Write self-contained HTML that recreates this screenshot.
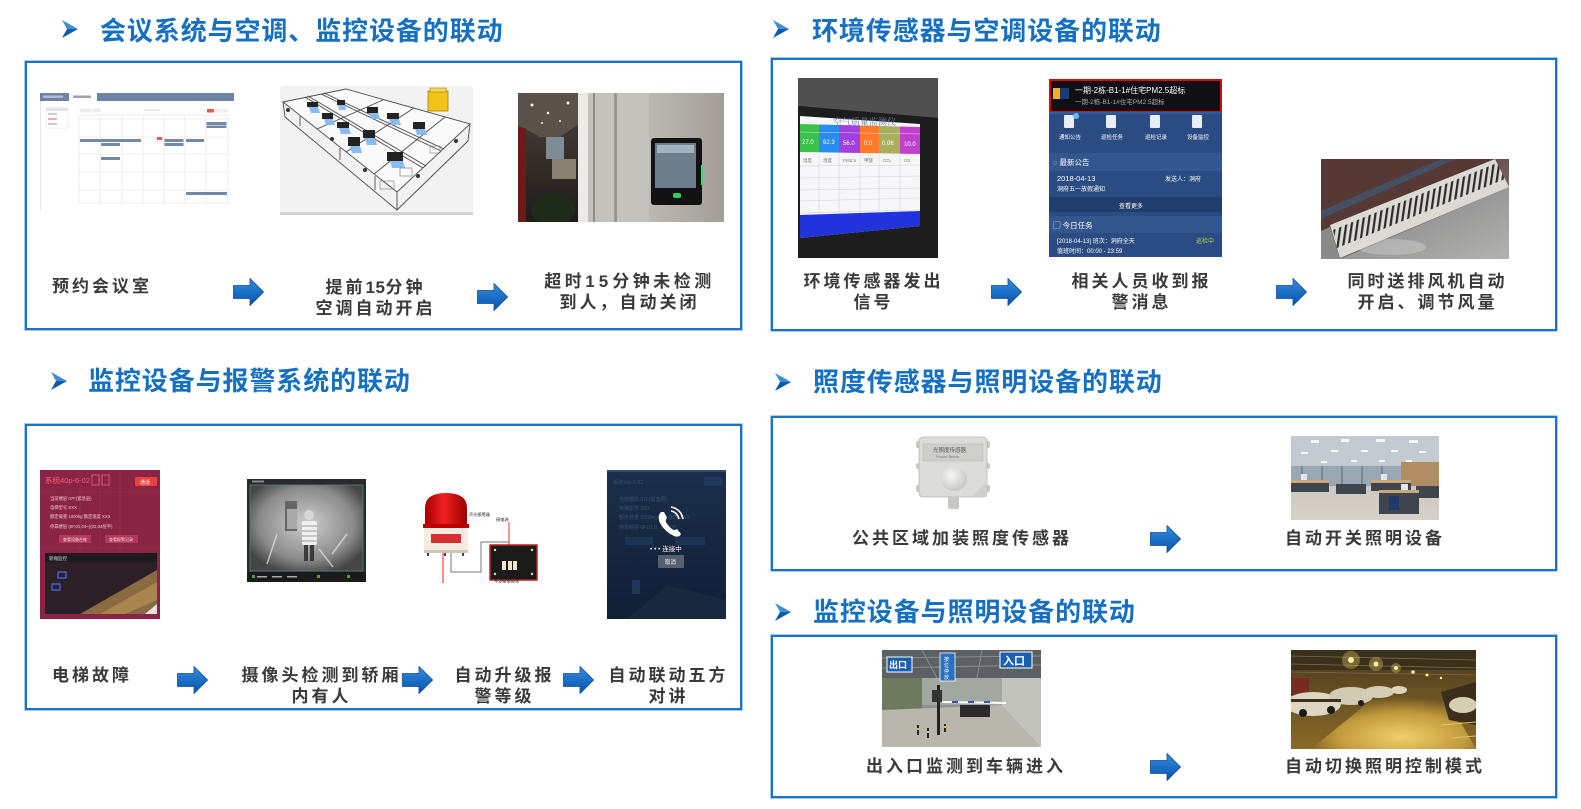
<!DOCTYPE html>
<html><head><meta charset="utf-8">
<style>
html,body{margin:0;padding:0;}
body{width:1581px;height:809px;background:#fff;position:relative;overflow:hidden;font-family:"Liberation Sans","Noto Sans CJK SC",sans-serif;}
.box{position:absolute;box-sizing:border-box;border:2px solid #1a73c6;box-shadow:0 0 0 0.6px #6aa6dc;}
.tt{position:absolute;font-family:"Liberation Sans","Noto Sans CJK SC",sans-serif;font-weight:bold;font-size:26px;line-height:26px;letter-spacing:0.9px;color:#1670c2;white-space:nowrap;}
.lb{position:absolute;font-family:"Liberation Sans","Noto Sans CJK SC",sans-serif;font-weight:bold;font-size:17px;line-height:21px;letter-spacing:3px;color:#3a3a3a;white-space:nowrap;}
.c{text-align:center;transform:translateX(-50%);padding-left:3px;}
.im{position:absolute;display:block;}
.d{letter-spacing:0.5px;}
</style></head><body>

<svg width="0" height="0" style="position:absolute">
<defs>
<linearGradient id="ag" x1="0" y1="0" x2="0" y2="1"><stop offset="0" stop-color="#3a8ede"/><stop offset="0.5" stop-color="#1a6fc6"/><stop offset="1" stop-color="#0b55a8"/></linearGradient>
<pattern id="slat" patternUnits="userSpaceOnUse" width="5.5" height="200" patternTransform="rotate(8)"><rect width="5.5" height="200" fill="#dcdad4"/><rect x="0" width="2.2" height="200" fill="#2c2b2a"/></pattern>
<radialGradient id="camg" cx="0.5" cy="0.45" r="0.6"><stop offset="0" stop-color="#cfcfcf"/><stop offset="0.7" stop-color="#8a8a8a"/><stop offset="1" stop-color="#454545"/></radialGradient>
<radialGradient id="dome" cx="0.4" cy="0.35" r="0.7"><stop offset="0" stop-color="#f7f7f5"/><stop offset="1" stop-color="#c4c4c0"/></radialGradient>
<radialGradient id="flr" cx="0.55" cy="0.8" r="0.65"><stop offset="0" stop-color="#f0d06a"/><stop offset="0.6" stop-color="#c29a3c"/><stop offset="1" stop-color="#6a5222"/></radialGradient>
<linearGradient id="navy" x1="0" y1="0" x2="0" y2="1"><stop offset="0" stop-color="#1c2e4a"/><stop offset="1" stop-color="#111f36"/></linearGradient>
<linearGradient id="red1" x1="0" y1="0" x2="1" y2="0"><stop offset="0" stop-color="#a50000"/><stop offset="0.45" stop-color="#f02020"/><stop offset="1" stop-color="#9a0000"/></linearGradient>
</defs>
</svg>

<!-- ===== Titles ===== -->
<svg class="im" style="left:62px;top:20px" width="16" height="18" viewBox="0 0 16 18"><polygon points="0,0 16,9 5,9" fill="#3d8fd8"/><polygon points="5,9 16,9 0,18" fill="#0c5aa8"/></svg>
<div class="tt" style="left:100px;top:18px">会议系统与空调、监控设备的联动</div>

<svg class="im" style="left:773px;top:20px" width="16" height="18" viewBox="0 0 16 18"><polygon points="0,0 16,9 5,9" fill="#3d8fd8"/><polygon points="5,9 16,9 0,18" fill="#0c5aa8"/></svg>
<div class="tt" style="left:812px;top:18px">环境传感器与空调设备的联动</div>

<svg class="im" style="left:51px;top:372px" width="16" height="18" viewBox="0 0 16 18"><polygon points="0,0 16,9 5,9" fill="#3d8fd8"/><polygon points="5,9 16,9 0,18" fill="#0c5aa8"/></svg>
<div class="tt" style="left:88px;top:368px">监控设备与报警系统的联动</div>

<svg class="im" style="left:775px;top:373px" width="16" height="18" viewBox="0 0 16 18"><polygon points="0,0 16,9 5,9" fill="#3d8fd8"/><polygon points="5,9 16,9 0,18" fill="#0c5aa8"/></svg>
<div class="tt" style="left:813px;top:369px">照度传感器与照明设备的联动</div>

<svg class="im" style="left:775px;top:603px" width="16" height="18" viewBox="0 0 16 18"><polygon points="0,0 16,9 5,9" fill="#3d8fd8"/><polygon points="5,9 16,9 0,18" fill="#0c5aa8"/></svg>
<div class="tt" style="left:813px;top:599px">监控设备与照明设备的联动</div>

<!-- ===== Boxes ===== -->
<div class="box" style="left:25px;top:61px;width:717px;height:269px"></div>
<div class="box" style="left:771px;top:58px;width:786px;height:273px"></div>
<div class="box" style="left:25px;top:424px;width:717px;height:286px"></div>
<div class="box" style="left:771px;top:416px;width:786px;height:155px"></div>
<div class="box" style="left:771px;top:635px;width:786px;height:163px"></div>

<!-- ===== Section 1 images ===== -->
<svg class="im" style="left:40px;top:93px" width="194" height="117" viewBox="0 0 194 117">
<rect width="194" height="117" fill="#fff"/>
<rect width="194" height="8" fill="#6f83a3"/>
<rect x="29" width="28" height="8" fill="#fff"/>
<rect x="3" y="2.5" width="20" height="2.5" fill="#b3bfd0"/>
<rect x="33" y="2.5" width="18" height="2.5" fill="#9aa2ad"/>
<rect x="0" y="8" width="0.8" height="109" fill="#e0e0e0"/>
<rect x="6" y="15" width="22" height="20" fill="#fff" stroke="#e0e0e0" stroke-width="0.5"/>
<rect x="6" y="15" width="22" height="3" fill="#e4e4e4"/>
<rect x="8" y="20.5" width="9" height="1" fill="#999"/>
<rect x="8" y="25.5" width="9" height="1" fill="#e06060"/>
<rect x="8" y="30.5" width="9" height="1" fill="#999"/>
<rect x="40" y="16" width="5" height="3" fill="#eee" stroke="#ddd" stroke-width="0.4"/>
<rect x="46" y="16" width="5" height="3" fill="#eee" stroke="#ddd" stroke-width="0.4"/>
<rect x="53" y="16" width="7" height="3" fill="#eee" stroke="#ddd" stroke-width="0.4"/>
<rect x="104" y="16.5" width="16" height="1.5" fill="#e6e6e6"/>
<rect x="167" y="16" width="7" height="3.5" fill="#e8594f"/>
<rect x="175" y="16" width="6" height="3.5" fill="#eee"/>
<rect x="182" y="16" width="6" height="3.5" fill="#eee"/>
<g stroke="#e3e3e3" stroke-width="0.6" fill="none">
<rect x="39" y="22" width="149" height="88"/>
<path d="M39 26H188M39 44H188M39 61H188M39 79H188M39 97H188M60 22V110M82 22V110M103 22V110M124 22V110M145 22V110M166 22V110"/>
</g>
<g fill="#7588a8">
<rect x="166.5" y="29" width="20" height="3"/>
<rect x="166.5" y="32.5" width="20" height="2.5"/>
<rect x="40" y="46" width="61" height="3"/>
<rect x="61" y="50" width="19" height="3"/>
<rect x="124.5" y="46" width="19" height="3"/>
<rect x="124.5" y="50" width="19" height="3"/>
<rect x="146" y="46" width="18" height="3"/>
<rect x="61" y="64" width="19" height="3"/>
<rect x="146" y="99" width="41" height="3"/>
</g>
<rect x="117" y="44" width="5" height="3" fill="#e8594f"/>
</svg>

<svg class="im" style="left:280px;top:86px" width="193" height="129" viewBox="0 0 193 129">
<rect width="193" height="129" rx="3" fill="#f2f2f2"/>
<rect x="0" y="126" width="193" height="3" fill="#d2d2d2"/>
<polygon points="3,16 66,3 190,38 117,106" fill="#fafafa"/>
<g fill="none" stroke="#4a4a4a" stroke-width="0.9">
<polygon points="3,16 66,3 190,38 117,106"/>
<polyline points="3,16 5,31 117,124 188,55 190,38"/>
<line x1="117" y1="106" x2="117" y2="124"/>
<line x1="25" y1="11" x2="143" y2="82"/>
<line x1="28" y1="10" x2="146" y2="80"/>
<line x1="41" y1="8" x2="161" y2="65"/>
<line x1="44" y1="7" x2="164" y2="63"/>
<line x1="37" y1="43" x2="103" y2="14"/>
<line x1="66" y1="66" x2="134" y2="22"/>
<line x1="94" y1="88" x2="165" y2="31"/>
<line x1="20" y1="30" x2="20" y2="40"/>
<line x1="60" y1="62" x2="60" y2="74"/>
<line x1="95" y1="90" x2="95" y2="104"/>
</g>
<g fill="#222">
<rect x="27" y="16" width="11" height="5"/><rect x="57" y="14" width="8" height="5"/>
<rect x="42" y="27" width="11" height="6"/><rect x="57" y="36" width="12" height="6"/>
<rect x="87" y="21" width="11" height="6"/><rect x="107" y="27" width="12" height="6"/>
<rect x="133" y="36" width="12" height="7"/><rect x="83" y="44" width="12" height="8"/>
<rect x="68" y="51" width="12" height="9"/><rect x="107" y="66" width="16" height="9"/>
</g>
<g fill="#7fb6ee" opacity="0.9">
<polygon points="29,21 38,21 40,27 31,27"/><polygon points="58,19 65,19 66,24 59,24"/>
<polygon points="44,33 53,33 55,39 46,39"/><polygon points="59,42 69,42 71,48 61,48"/>
<polygon points="89,27 98,27 100,33 91,33"/><polygon points="109,33 119,33 121,39 111,39"/>
<polygon points="135,43 145,43 147,49 137,49"/><polygon points="85,52 95,52 97,59 87,59"/>
<polygon points="70,60 80,60 82,67 72,67"/><polygon points="110,75 123,75 125,82 112,82"/>
</g>
<g fill="#333"><circle cx="8" cy="24" r="2"/><circle cx="52" cy="53" r="2"/><circle cx="85" cy="84" r="2"/><circle cx="138" cy="90" r="2"/><circle cx="176" cy="55" r="2"/></g>
<g fill="none" stroke="#777" stroke-width="0.6"><rect x="100" y="95" width="14" height="8"/><rect x="120" y="82" width="12" height="8"/><rect x="150" y="60" width="10" height="7"/></g>
<rect x="148" y="5" width="20" height="20" fill="#f2c318" stroke="#a88000" stroke-width="0.8"/>
<rect x="150" y="2" width="16" height="4" fill="#f5d658" stroke="#a88000" stroke-width="0.6"/>
</svg>

<svg class="im" style="left:518px;top:93px" width="206" height="129" viewBox="0 0 206 129">
<defs><linearGradient id="of1" x1="0" y1="0" x2="0" y2="1"><stop offset="0" stop-color="#4a423c"/><stop offset="1" stop-color="#1f1b19"/></linearGradient>
<linearGradient id="of2" x1="0" y1="0" x2="1" y2="0"><stop offset="0" stop-color="#bcb9b3"/><stop offset="1" stop-color="#a29e97"/></linearGradient></defs>
<rect width="206" height="129" fill="url(#of1)"/>
<polygon points="0,0 62,0 62,30 42,44 22,44 0,32" fill="#5a524a"/>
<rect x="0" y="35" width="8" height="94" fill="#6b1c18"/>
<rect x="28" y="44" width="18" height="22" fill="#7d8c96"/>
<g fill="#f4f4f0"><circle cx="14" cy="12" r="1.5"/><circle cx="30" cy="20" r="1.3"/><circle cx="42" cy="28" r="1"/><circle cx="50" cy="10" r="1.5"/><circle cx="24" cy="30" r="1"/></g>
<rect x="34" y="66" width="24" height="20" fill="#8a8070"/>
<rect x="60" y="0" width="10" height="129" fill="#ecebe7"/>
<rect x="70" y="0" width="61" height="129" fill="#c4c2bc"/>
<rect x="75" y="0" width="2" height="129" fill="#8e8c86"/>
<rect x="96" y="0" width="3" height="129" fill="#9b9891"/>
<rect x="131" y="0" width="75" height="129" fill="url(#of2)"/>
<rect x="133" y="45" width="51" height="67" rx="3" fill="#121212"/>
<rect x="137" y="50" width="41" height="45" fill="#6e7e8c"/>
<rect x="139" y="52" width="37" height="8" fill="#a3b3c0"/>
<rect x="155" y="100" width="8" height="5" rx="2" fill="#2fcf66"/>
<rect x="183" y="72" width="3" height="20" fill="#3be07a"/>
<ellipse cx="35" cy="117" rx="22" ry="16" fill="#1e2a1a"/>
</svg>

<!-- ===== Section 1 labels ===== -->
<div class="lb" style="left:52px;top:276px">预约会议室</div>
<svg class="im" style="left:233px;top:278px" width="31" height="28" viewBox="0 0 31 28"><polygon points="0.5,7.5 17,7.5 17,0.5 30.5,14 17,27.5 17,20.5 0.5,20.5" fill="url(#ag)" stroke="#0b4f9a" stroke-width="0.8"/></svg>
<div class="lb c" style="left:374px;top:277px">提前<span class="d">15</span>分钟<br>空调自动开启</div>
<svg class="im" style="left:477px;top:283px" width="31" height="28" viewBox="0 0 31 28"><polygon points="0.5,7.5 17,7.5 17,0.5 30.5,14 17,27.5 17,20.5 0.5,20.5" fill="url(#ag)" stroke="#0b4f9a" stroke-width="0.8"/></svg>
<div class="lb c" style="left:628px;top:271px"><span style="letter-spacing:3.5px">超时<span style="letter-spacing:4px">15</span>分钟未检测</span><br>到人，自动关闭</div>

<!-- ===== Section 2 images ===== -->
<svg class="im" style="left:798px;top:78px" width="140" height="180" viewBox="0 0 140 180">
<rect width="140" height="180" fill="#161617"/>
<polygon points="0,0 140,0 140,40 0,28" fill="#505051"/>
<polygon points="0,28 140,40 140,180 0,180" fill="#1d1d1e"/>
<polygon points="2,38 122,46 122,148 2,160" fill="#f7f7f9"/>
<text x="35" y="47" font-size="9" fill="#6a7fa8" font-family="Liberation Serif,Noto Serif CJK SC,serif">空气质量监测仪</text>
<polygon points="2,46 21,46.5 21,74.3 2,74" fill="#3cc24a"/>
<polygon points="21,46.5 41,47 41,74.6 21,74.3" fill="#2a8cf0"/>
<polygon points="41,47 62,47.5 62,75 41,74.6" fill="#a040e0"/>
<polygon points="62,47.5 81,48 81,75.3 62,75" fill="#ff7a2a"/>
<polygon points="81,48 102,48.5 102,75.7 81,75.3" fill="#a8b060"/>
<polygon points="102,48.5 122,49 122,76 102,75.7" fill="#c040d0"/>
<g stroke="#fff" stroke-width="0.5" opacity="0.7"><line x1="2" y1="54" x2="122" y2="56"/></g>
<g fill="#fff" font-size="6" font-family="Liberation Sans,sans-serif"><text x="4" y="66">27.0</text><text x="25" y="66">62.3</text><text x="45" y="67">56.0</text><text x="66" y="67">0.0</text><text x="84" y="67">0.06</text><text x="106" y="68">10.0</text></g>
<g stroke="#cfcfd6" stroke-width="0.5" fill="none"><path d="M2 88L122 87M2 100L122 98M2 112L122 110M2 123L122 120M2 135L122 132M21 75V158M41 75V156M62 75V154M81 76V152M102 76V150"/></g>
<g fill="#777" font-size="4.5" font-family="Liberation Sans,Noto Sans CJK SC,sans-serif"><text x="5" y="84">温度</text><text x="25" y="84">湿度</text><text x="45" y="84">PM2.5</text><text x="66" y="84">甲醛</text><text x="85" y="84">CO₂</text><text x="106" y="84">O3</text></g>
<polygon points="2,137 122,133 122,148 2,160" fill="#2233dd"/>
</svg>

<svg class="im" style="left:1049px;top:79px" width="173" height="178" viewBox="0 0 173 178" font-family="Liberation Sans,Noto Sans CJK SC,sans-serif">
<rect width="173" height="178" fill="#2b4c82"/>
<rect x="1" y="1" width="171" height="32" fill="#0f0f14" stroke="#d01010" stroke-width="2"/>
<rect x="4" y="9" width="7" height="11" fill="#f0b020"/><rect x="11" y="9" width="9" height="11" fill="#1d3a78"/>
<text x="26" y="14" font-size="8" fill="#fff">一期-2栋-B1-1#住宅PM2.5超标</text>
<text x="26" y="25" font-size="6.5" fill="#aaa">一期-2栋-B1-1#住宅PM2.5超标</text>
<rect x="0" y="33" width="173" height="2" fill="#2a5ca8"/>
<g fill="#e8eef8"><rect x="15" y="36" width="10" height="13" rx="1"/><rect x="57" y="36" width="10" height="13" rx="1"/><rect x="101" y="36" width="10" height="13" rx="1"/><rect x="143" y="36" width="10" height="13" rx="1"/></g>
<circle cx="27" cy="37" r="3" fill="#6fb6ff"/>
<g fill="#fff" font-size="5.5"><text x="10" y="60">通知公告</text><text x="52" y="60">巡检任务</text><text x="96" y="60">巡检记录</text><text x="138" y="60">设备监控</text></g>
<rect x="0" y="74" width="173" height="17" fill="#34568e"/>
<text x="4" y="86" font-size="7.5" fill="#fff">◌ 最新公告</text>
<line x1="0" y1="91" x2="173" y2="91" stroke="#4a6aa0" stroke-width="0.6"/>
<text x="8" y="102" font-size="7.5" fill="#fff">2018-04-13</text>
<text x="116" y="102" font-size="6" fill="#fff">发送人：洞府</text>
<text x="8" y="112" font-size="6" fill="#fff">洞府五一放假通知</text>
<rect x="0" y="118" width="173" height="15" fill="#213d6b"/>
<text x="70" y="129" font-size="6" fill="#fff">查看更多</text>
<rect x="0" y="137" width="173" height="17" fill="#34568e"/>
<text x="4" y="149" font-size="7.5" fill="#fff">▢ 今日任务</text>
<text x="8" y="164" font-size="6" fill="#fff">[2018-04-13] 班次：洞府全天</text>
<text x="147" y="164" font-size="6" fill="#b8d040">巡检中</text>
<text x="8" y="174" font-size="6" fill="#fff">值班时间：00:00 - 23:59</text>
</svg>

<svg class="im" style="left:1321px;top:159px" width="188" height="100" viewBox="0 0 188 100">
<defs><linearGradient id="vbg" x1="0" y1="0" x2="1" y2="1"><stop offset="0" stop-color="#5e3a36"/><stop offset="0.5" stop-color="#6b5552"/><stop offset="1" stop-color="#9a9a9a"/></linearGradient>
<linearGradient id="vfl" x1="0" y1="0" x2="1" y2="1"><stop offset="0" stop-color="#7e7e80"/><stop offset="1" stop-color="#b2b2b0"/></linearGradient></defs>
<rect width="188" height="100" fill="url(#vbg)"/>
<polygon points="0,0 176,0 9,68 0,72" fill="#563834"/>
<polygon points="0,52 120,0 135,0 0,60" fill="#3f5a78" opacity="0.7"/>
<polygon points="188,28 188,100 19,100" fill="url(#vfl)"/>
<polygon points="9,66 174,0 188,28 19,99" fill="#dcdad4"/>
<polygon points="12,71 176,4 184,20 16,89" fill="url(#slat)"/>
<polygon points="0,100 19,100 9,68 0,72" fill="#8a8a8a"/>
<ellipse cx="70" cy="88" rx="35" ry="8" fill="#e0e0e0" opacity="0.35"/>
</svg>

<!-- ===== Section 2 labels ===== -->
<div class="lb c" style="left:872px;top:271px">环境传感器发出<br>信号</div>
<svg class="im" style="left:991px;top:278px" width="31" height="28" viewBox="0 0 31 28"><polygon points="0.5,7.5 17,7.5 17,0.5 30.5,14 17,27.5 17,20.5 0.5,20.5" fill="url(#ag)" stroke="#0b4f9a" stroke-width="0.8"/></svg>
<div class="lb c" style="left:1140px;top:271px">相关人员收到报<br>警消息</div>
<svg class="im" style="left:1276px;top:278px" width="31" height="28" viewBox="0 0 31 28"><polygon points="0.5,7.5 17,7.5 17,0.5 30.5,14 17,27.5 17,20.5 0.5,20.5" fill="url(#ag)" stroke="#0b4f9a" stroke-width="0.8"/></svg>
<div class="lb c" style="left:1426px;top:271px">同时送排风机自动<br>开启、调节风量</div>

<!-- ===== Section 3 images ===== -->
<svg class="im" style="left:40px;top:470px" width="120" height="149" viewBox="0 0 120 149" font-family="Liberation Sans,Noto Sans CJK SC,sans-serif">
<rect width="120" height="149" fill="#8a2445"/>
<g stroke="#a03a5a" stroke-width="0.4"><path d="M0 22H120M0 78H120M40 0V80M60 0V80M80 0V80"/></g>
<text x="5" y="13" font-size="7.5" fill="#ff5a78">系统40p-6-02</text>
<rect x="52" y="5" width="7" height="10" fill="none" stroke="#ff6a80" stroke-width="0.7"/><rect x="62" y="5" width="7" height="10" fill="none" stroke="#ff6a80" stroke-width="0.7"/>
<rect x="95" y="7" width="22" height="9" rx="1" fill="#e8413f"/>
<text x="100" y="14" font-size="5" fill="#fff">通话</text>
<g fill="#f0c8d0" font-size="4.3"><text x="10" y="30">当前楼层  07F(紧急层)</text><text x="10" y="39">电梯型号  XXX</text><text x="10" y="48">额定载重  1000kg    额定速度  XXX</text><text x="10" y="58">停靠楼层  (6F,01,04~)(02,04层平)</text></g>
<rect x="19" y="65" width="32" height="8" fill="#b03a5a"/><rect x="65" y="65" width="33" height="8" fill="#b03a5a"/>
<g fill="#ffd8e0" font-size="4"><text x="23" y="71">查看设备台账</text><text x="69" y="71">查看报警记录</text></g>
<rect x="5" y="83" width="112" height="61" fill="#2c2026"/>
<rect x="5" y="83" width="112" height="9" fill="#1e1a1e"/>
<text x="9" y="90" font-size="4.5" fill="#ddd">轿厢监控</text>
<polygon points="40,144 117,100 117,144" fill="#8a6a40"/>
<polygon points="60,144 117,112 117,130 85,144" fill="#a8844e"/>
<rect x="18" y="102" width="8" height="6" fill="none" stroke="#4a6aff" stroke-width="1.2"/>
<rect x="12" y="114" width="8" height="6" fill="none" stroke="#4a6aff" stroke-width="1.2"/>
<polygon points="105,144 117,134 117,144" fill="#e8e0e8"/>
</svg>

<svg class="im" style="left:247px;top:479px" width="119" height="103" viewBox="0 0 119 103">
<rect width="119" height="103" fill="#2a2a2a"/>
<rect x="3" y="6" width="113" height="86" fill="url(#camg)"/>
<rect x="3" y="6" width="113" height="86" fill="none" stroke="#4a8a80" stroke-width="0.8"/>
<g stroke="#e6e6e6" stroke-width="1.5" opacity="0.7"><line x1="20" y1="85" x2="30" y2="55"/><line x1="85" y1="75" x2="100" y2="55"/><line x1="72" y1="70" x2="86" y2="88"/></g>
<rect x="38" y="22" width="12" height="30" fill="#666"/>
<rect x="40" y="30" width="10" height="20" fill="#aaa"/>
<circle cx="62" cy="36" r="5" fill="#d8d8d8"/>
<rect x="55" y="42" width="15" height="24" rx="2" fill="#f0f0f0"/>
<g stroke="#888" stroke-width="0.8"><line x1="55" y1="47" x2="70" y2="47"/><line x1="55" y1="52" x2="70" y2="52"/><line x1="55" y1="57" x2="70" y2="57"/><line x1="55" y1="62" x2="70" y2="62"/></g>
<rect x="57" y="66" width="4" height="16" fill="#3a3a3a"/><rect x="63" y="66" width="4" height="16" fill="#3a3a3a"/>
<rect x="0" y="93" width="119" height="10" fill="#1a1a1a"/>
<g fill="#5c9a3a"><rect x="5" y="96" width="3" height="3"/><rect x="70" y="96" width="3" height="3"/><rect x="100" y="96" width="3" height="3"/></g>
<g fill="#aaa"><rect x="10" y="97" width="10" height="1.5"/><rect x="25" y="97" width="10" height="1.5"/><rect x="40" y="97" width="10" height="1.5"/></g>
<rect x="5" y="1.5" width="12" height="2" fill="#888"/>
</svg>

<svg class="im" style="left:414px;top:488px" width="127" height="95" viewBox="0 0 127 95" font-family="Liberation Sans,Noto Sans CJK SC,sans-serif">
<rect width="127" height="95" fill="#fff"/>
<path d="M11,37 L11,20 Q11,5 32,5 Q53,5 53,20 L53,37 Z" fill="url(#red1)"/>
<rect x="9" y="36" width="46" height="4" fill="#b00"/>
<rect x="10" y="40" width="44" height="22" fill="#f2ede3"/>
<rect x="17" y="46" width="30" height="9" fill="#d83030"/>
<rect x="10" y="62" width="44" height="3" fill="#cfc8b8"/>
<g fill="#444"><rect x="13" y="65" width="2" height="3"/><rect x="30" y="65" width="2" height="3"/><rect x="48" y="65" width="2" height="3"/></g>
<line x1="29" y1="65" x2="29" y2="95" stroke="#e02020" stroke-width="1"/>
<polyline points="37,65 37,84 67,84 67,54 95,54" fill="none" stroke="#777" stroke-width="1"/>
<line x1="95" y1="34" x2="95" y2="75" stroke="#e02020" stroke-width="0.9"/>
<rect x="76" y="57" width="47" height="35" fill="#1a1a1a" stroke="#c02020" stroke-width="1.5"/>
<g fill="#f3e6c8"><rect x="88" y="73" width="4" height="9"/><rect x="94" y="73" width="4" height="9"/><rect x="99" y="73" width="4" height="9"/></g>
<g fill="#ddd"><circle cx="81" cy="62" r="1.2"/><circle cx="118" cy="62" r="1.2"/><circle cx="81" cy="86" r="1.2"/><circle cx="118" cy="86" r="1.2"/></g>
<g fill="#222" font-size="4.2"><text x="55" y="28">声光报警器</text><text x="82" y="33">接电源</text><text x="80" y="95">手动报警按钮</text></g>
</svg>

<svg class="im" style="left:607px;top:470px" width="119" height="149" viewBox="0 0 119 149" font-family="Liberation Sans,Noto Sans CJK SC,sans-serif">
<rect width="119" height="149" fill="url(#navy)"/>
<rect width="119" height="2" fill="#2e4e6e"/>
<g fill="#3a5070" font-size="5"><text x="6" y="14">系统40p-6-02</text><text x="12" y="31">当前楼层  07F(紧急层)</text><text x="12" y="40">电梯型号  XXX</text><text x="12" y="49">额定载重  1000kg   额定速度  XXX</text><text x="12" y="59">停靠楼层  6F,01,0...04层平</text></g>
<rect x="97" y="7" width="18" height="9" fill="#22385a"/>
<rect x="18" y="67" width="28" height="8" fill="#1d3454"/><rect x="68" y="67" width="30" height="8" fill="#1d3454"/>
<path d="M54,42 q-4,4 -1,11 q5,9 14,13 q5,2 7,-2 l-4,-5 q-3,2 -5,0 q-4,-3 -6,-7 q-1,-2 1,-4 l-3,-6 z" fill="#fff"/>
<path d="M64,41 q6,1 8,8 M64,37 q10,2 12,12" fill="none" stroke="#fff" stroke-width="1.6"/>
<text x="43" y="81" font-size="6.5" fill="#fff">• • •  连接中</text>
<rect x="51" y="85" width="26" height="13" rx="1" fill="#56606e"/>
<text x="58" y="94" font-size="5.5" fill="#fff">取消</text>
<polygon points="20,149 60,115 119,130 119,149" fill="#1a2b40" opacity="0.8"/>
<rect x="25" y="110" width="8" height="14" fill="#24406a" opacity="0.7"/>
</svg>

<!-- ===== Section 3 labels ===== -->
<div class="lb" style="left:52px;top:665px">电梯故障</div>
<svg class="im" style="left:177px;top:666px" width="31" height="28" viewBox="0 0 31 28"><polygon points="0.5,7.5 17,7.5 17,0.5 30.5,14 17,27.5 17,20.5 0.5,20.5" fill="url(#ag)" stroke="#0b4f9a" stroke-width="0.8"/></svg>
<div class="lb c" style="left:320px;top:665px">摄像头检测到轿厢<br>内有人</div>
<svg class="im" style="left:402px;top:666px" width="31" height="28" viewBox="0 0 31 28"><polygon points="0.5,7.5 17,7.5 17,0.5 30.5,14 17,27.5 17,20.5 0.5,20.5" fill="url(#ag)" stroke="#0b4f9a" stroke-width="0.8"/></svg>
<div class="lb c" style="left:503px;top:665px">自动升级报<br>警等级</div>
<svg class="im" style="left:563px;top:666px" width="31" height="28" viewBox="0 0 31 28"><polygon points="0.5,7.5 17,7.5 17,0.5 30.5,14 17,27.5 17,20.5 0.5,20.5" fill="url(#ag)" stroke="#0b4f9a" stroke-width="0.8"/></svg>
<div class="lb c" style="left:667px;top:665px">自动联动五方<br>对讲</div>

<!-- ===== Section 4 images ===== -->
<svg class="im" style="left:916px;top:436px" width="74" height="74" viewBox="0 0 74 74" font-family="Liberation Sans,Noto Sans CJK SC,sans-serif">
<rect width="74" height="74" fill="#fff"/>
<g fill="#c9c9c5"><rect x="0" y="5" width="7" height="7" rx="2"/><rect x="67" y="5" width="7" height="7" rx="2"/><rect x="0" y="49" width="7" height="7" rx="2"/><rect x="67" y="49" width="7" height="7" rx="2"/><rect x="0" y="27" width="6" height="6" rx="2"/><rect x="68" y="27" width="6" height="6" rx="2"/></g>
<rect x="3" y="1" width="68" height="60" rx="4" fill="#dcdcd8" stroke="#b8b8b3" stroke-width="0.8"/>
<rect x="7" y="8" width="60" height="17" fill="#cfcfca" stroke="#b5b5b0" stroke-width="0.5"/>
<text x="17" y="16" font-size="5.5" fill="#555">光照度传感器</text>
<text x="20" y="22" font-size="3.5" fill="#777">Photon Sensor</text>
<polygon points="55,61 71,45 71,61" fill="#cfcfcb"/>
<ellipse cx="38" cy="43" rx="13" ry="12" fill="url(#dome)"/>
<rect x="32" y="61" width="11" height="12" rx="2" fill="#c8c8c2"/>
</svg>

<svg class="im" style="left:1291px;top:436px" width="148" height="84" viewBox="0 0 148 84">
<defs><linearGradient id="oflr" x1="0" y1="0" x2="0" y2="1"><stop offset="0" stop-color="#bdbab3"/><stop offset="1" stop-color="#d6d2ca"/></linearGradient></defs>
<rect width="148" height="84" fill="url(#oflr)"/>
<polygon points="0,0 148,0 148,28 100,33 0,36" fill="#c4cad1"/>
<g fill="#f6f8fa"><rect x="20" y="4" width="8" height="3"/><rect x="50" y="3" width="8" height="3"/><rect x="85" y="3" width="9" height="3"/><rect x="118" y="4" width="9" height="3"/><rect x="10" y="16" width="7" height="2"/><rect x="40" y="14" width="7" height="2"/><rect x="70" y="14" width="7" height="2"/><rect x="100" y="14" width="7" height="2"/><rect x="128" y="15" width="7" height="2"/><rect x="30" y="25" width="6" height="2"/><rect x="60" y="24" width="6" height="2"/><rect x="88" y="24" width="6" height="2"/><rect x="115" y="24" width="6" height="2"/></g>
<rect x="0" y="30" width="110" height="20" fill="#9aa8b4"/>
<rect x="110" y="26" width="38" height="24" fill="#b08c62"/>
<g fill="#7a8894"><rect x="10" y="30" width="2" height="20"/><rect x="30" y="30" width="2" height="20"/><rect x="50" y="30" width="2" height="20"/><rect x="70" y="30" width="2" height="20"/><rect x="90" y="30" width="2" height="20"/></g>
<g fill="#3e454c"><rect x="0" y="46" width="38" height="10"/><rect x="45" y="48" width="30" height="10"/><rect x="80" y="46" width="40" height="9"/><rect x="88" y="56" width="40" height="22"/><rect x="125" y="50" width="23" height="12"/></g>
<g fill="#c8a97a"><rect x="0" y="44" width="38" height="3"/><rect x="80" y="44" width="40" height="3"/><rect x="88" y="54" width="40" height="3"/></g>
<rect x="98" y="60" width="10" height="14" fill="#203a70"/>
<g fill="#e6e6e6"><rect x="10" y="38" width="6" height="6"/><rect x="90" y="38" width="6" height="6"/><rect x="110" y="48" width="7" height="6"/></g>
</svg>

<!-- ===== Section 4 labels ===== -->
<div class="lb" style="left:852px;top:528px">公共区域加装照度传感器</div>
<svg class="im" style="left:1150px;top:525px" width="31" height="28" viewBox="0 0 31 28"><polygon points="0.5,7.5 17,7.5 17,0.5 30.5,14 17,27.5 17,20.5 0.5,20.5" fill="url(#ag)" stroke="#0b4f9a" stroke-width="0.8"/></svg>
<div class="lb" style="left:1285px;top:528px">自动开关照明设备</div>

<!-- ===== Section 5 images ===== -->
<svg class="im" style="left:882px;top:650px" width="159" height="97" viewBox="0 0 159 97" font-family="Liberation Sans,Noto Sans CJK SC,sans-serif">
<rect width="159" height="97" fill="#8e9290"/>
<rect width="159" height="28" fill="#5c6062"/>
<g stroke="#8a8e90" stroke-width="1"><line x1="0" y1="8" x2="159" y2="6"/><line x1="0" y1="18" x2="159" y2="15"/><line x1="40" y1="0" x2="55" y2="28"/><line x1="100" y1="0" x2="95" y2="28"/></g>
<rect x="0" y="28" width="40" height="32" fill="#6d7a60"/>
<rect x="40" y="28" width="80" height="27" fill="#a3a7a2"/>
<rect x="120" y="28" width="39" height="69" fill="#c3c3be"/>
<polygon points="0,60 120,55 159,97 0,97" fill="#b9b6ad"/>
<rect x="78" y="55" width="30" height="12" fill="#2a2a2a"/>
<rect x="5" y="7" width="25" height="15" fill="#1a5fb0" stroke="#fff" stroke-width="1"/>
<text x="7" y="18" font-size="9" font-weight="bold" fill="#fff">出口</text>
<rect x="58" y="3" width="15" height="28" fill="#2a6fc0" stroke="#fff" stroke-width="0.8"/>
<text x="62" y="11" font-size="5" fill="#fff">按</text><text x="62" y="17" font-size="5" fill="#fff">位</text><text x="62" y="23" font-size="5" fill="#fff">停</text><text x="62" y="29" font-size="5" fill="#fff">放</text>
<rect x="118" y="2" width="32" height="16" fill="#1a5fb0" stroke="#fff" stroke-width="1"/>
<text x="121" y="14.5" font-size="11" font-weight="bold" fill="#fff">入口</text>
<rect x="55" y="35" width="3" height="50" fill="#222"/>
<rect x="50" y="40" width="10" height="12" fill="#333"/>
<line x1="60" y1="52" x2="124" y2="53" stroke="#fff" stroke-width="2"/>
<g stroke="#2a5ab0" stroke-width="2"><line x1="70" y1="52" x2="76" y2="52"/><line x1="86" y1="52" x2="92" y2="52"/><line x1="102" y1="52" x2="108" y2="52"/></g>
<g fill="#222"><rect x="35" y="75" width="2" height="10"/><rect x="45" y="78" width="2" height="10"/><rect x="62" y="74" width="2" height="8"/></g>
<g fill="#e0c030"><rect x="35" y="78" width="2" height="2"/><rect x="45" y="81" width="2" height="2"/><rect x="62" y="76" width="2" height="2"/></g>
</svg>

<svg class="im" style="left:1291px;top:650px" width="185" height="99" viewBox="0 0 185 99">
<defs><linearGradient id="gbg" x1="0" y1="0" x2="0" y2="1"><stop offset="0" stop-color="#4a3a1e"/><stop offset="1" stop-color="#8a6a28"/></linearGradient></defs>
<rect width="185" height="99" fill="url(#gbg)"/>
<rect width="185" height="20" fill="#3a301c"/>
<g stroke="#7a6a48" stroke-width="0.8"><line x1="0" y1="6" x2="185" y2="10"/><line x1="0" y1="14" x2="185" y2="18"/><line x1="0" y1="22" x2="185" y2="25"/></g>
<polygon points="20,99 95,38 150,38 185,99" fill="url(#flr)"/>
<g fill="#fff0a0"><circle cx="60" cy="10" r="3"/><circle cx="85" cy="14" r="2.5"/><circle cx="105" cy="18" r="2"/><circle cx="122" cy="22" r="1.8"/><circle cx="136" cy="25" r="1.5"/><circle cx="150" cy="28" r="1.2"/></g>
<g fill="#ffe27a" opacity="0.3"><circle cx="60" cy="10" r="9"/><circle cx="85" cy="14" r="7"/><circle cx="105" cy="18" r="5"/></g>
<rect x="0" y="28" width="18" height="20" fill="#7a2a20"/>
<ellipse cx="22" cy="54" rx="28" ry="12" fill="#ddd6c2"/>
<ellipse cx="60" cy="46" rx="22" ry="9" fill="#d2cab2"/>
<ellipse cx="88" cy="42" rx="15" ry="6" fill="#d6ceb4"/>
<ellipse cx="108" cy="40" rx="8" ry="4" fill="#ddd4ba"/>
<g fill="#1a1a1a"><circle cx="12" cy="63" r="4"/><circle cx="40" cy="60" r="4"/><circle cx="70" cy="53" r="3"/></g>
<rect x="0" y="49" width="50" height="3" fill="#3a3020"/>
<polygon points="150,42 185,32 185,75 158,70" fill="#3a2e1c"/>
<ellipse cx="172" cy="55" rx="14" ry="8" fill="#d6ceb4"/>
<g stroke="#e8c060" stroke-width="1"><line x1="150" y1="75" x2="185" y2="72"/><line x1="160" y1="88" x2="185" y2="86"/></g>
</svg>

<!-- ===== Section 5 labels ===== -->
<div class="lb" style="left:866px;top:756px">出入口监测到车辆进入</div>
<svg class="im" style="left:1150px;top:753px" width="31" height="28" viewBox="0 0 31 28"><polygon points="0.5,7.5 17,7.5 17,0.5 30.5,14 17,27.5 17,20.5 0.5,20.5" fill="url(#ag)" stroke="#0b4f9a" stroke-width="0.8"/></svg>
<div class="lb" style="left:1285px;top:756px">自动切换照明控制模式</div>

</body></html>
